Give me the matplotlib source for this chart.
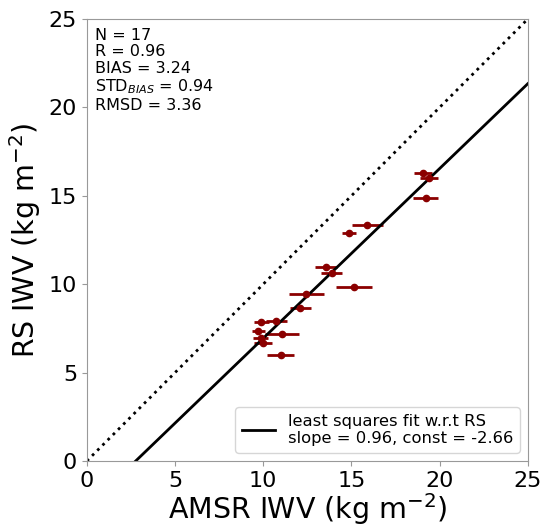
import matplotlib
matplotlib.use("Agg")
import matplotlib.pyplot as plt
import numpy as np

# AMSR vs radiosonde IWV (kg m-2)
amsr = [19.07, 19.41, 19.20, 15.91, 14.85, 13.55, 13.87, 15.15, 12.45,
        12.11, 9.90, 10.75, 9.71, 11.04, 9.85, 9.99, 10.98]
rs = [16.27, 15.99, 14.90, 13.37, 12.88, 10.95, 10.62, 9.86, 9.45,
      8.67, 7.86, 7.92, 7.37, 7.18, 6.98, 6.69, 6.01]
amsr_err = [0.50, 0.52, 0.71, 0.88, 0.41, 0.61, 0.60, 1.00, 0.98,
            0.61, 0.40, 0.60, 0.37, 0.96, 0.41, 0.53, 0.77]

slope, const = 0.96, -2.66
stats = "N = 17\nR = 0.96\nBIAS = 3.24\nSTD$_{BIAS}$ = 0.94\nRMSD = 3.36"

fig = plt.figure(figsize=(5.43, 5.28), dpi=100)
ax = fig.add_axes([0.160, 0.127, 0.812, 0.837])

ax.errorbar(amsr, rs, xerr=amsr_err, fmt='o', color='darkred',
            markersize=4.5, elinewidth=2, capsize=0)
xx = np.array([0, 25])
ax.plot(xx, xx, ':', color='black', linewidth=2)
ax.plot(xx, slope * xx + const, '-', color='black', linewidth=2,
        label="least squares fit w.r.t RS\nslope = %.2f, const = %.2f" % (slope, const))

ax.text(0.018, 0.98, stats, transform=ax.transAxes, va='top', ha='left',
        fontsize=11.5, linespacing=1.12)

ax.set_xlim(0, 25)
ax.set_ylim(0, 25)
ax.set_xticks(range(0, 26, 5))
ax.set_yticks(range(0, 26, 5))
for s in ax.spines.values():
    s.set_color('0.6')
ax.tick_params(labelsize=16, color='0.6')
ax.set_xlabel("AMSR IWV (kg m$^{-2}$)", fontsize=20.5, labelpad=0.5)
ax.set_ylabel("RS IWV (kg m$^{-2}$)", fontsize=20.5)
ax.legend(loc='lower right', fontsize=11.8, handlelength=2.0)

fig.savefig("out.png", dpi=100)
